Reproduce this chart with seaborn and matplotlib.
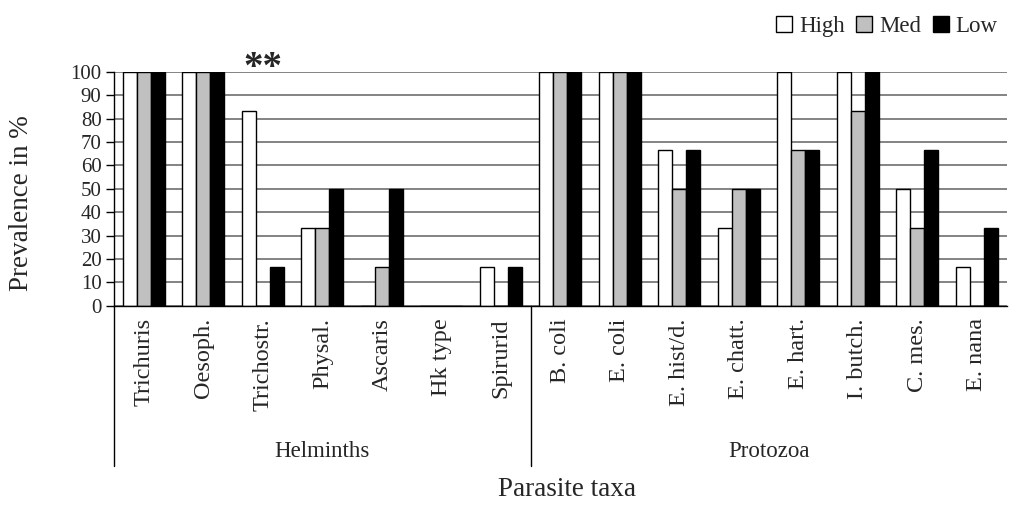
import matplotlib
matplotlib.use("Agg")
import matplotlib.pyplot as plt
from matplotlib.patches import Patch
import matplotlib.transforms as mtransforms
import seaborn as sns
import pandas as pd

# Parasite taxa and prevalence (%) per infection level
taxa = ["Trichuris", "Oesoph.", "Trichostr.", "Physal.", "Ascaris", "Hk type",
        "Spirurid", "B. coli", "E. coli", "E. hist/d.", "E. chatt.", "E. hart.",
        "I. butch.", "C. mes.", "E. nana"]
levels = ["High", "Med", "Low"]
high = [100, 100, 83.3, 33.3, 0, 0, 16.7, 100, 100, 66.7, 33.3, 100, 100, 50, 16.7]
med = [100, 100, 0, 33.3, 16.7, 0, 0, 100, 100, 50, 50, 66.7, 83.3, 33.3, 0]
low = [100, 100, 16.7, 50, 50, 0, 16.7, 100, 100, 66.7, 50, 66.7, 100, 66.7, 33.3]
groups = ["Helminths", "Protozoa"]
group_sizes = [7, 8]
yticks = list(range(0, 101, 10))

df = pd.DataFrame({
    "taxon": taxa * 3,
    "level": [lv for lv in levels for _ in taxa],
    "prev": high + med + low,
})

sns.set_theme(style="white")
plt.rcParams["font.family"] = ["Liberation Serif", "DejaVu Serif"]

colors = ["white", "#c0c0c0", "black"]

fig = plt.figure(figsize=(10.1, 5.08), dpi=100)
ax = fig.add_axes([0.1129, 0.3982, 0.8837, 0.4606])

ax.yaxis.grid(True, color="#6e6e6e", linewidth=1.2, zorder=0)
ax.set_axisbelow(True)

sns.barplot(data=df, x="taxon", y="prev", hue="level", hue_order=levels,
            order=taxa, palette=colors, edgecolor="black", linewidth=1.0,
            width=0.71, gap=0, ax=ax, legend=False, errorbar=None,
            saturation=1)

ax.set_ylim(0, 100)
ax.set_xlim(-0.5, len(taxa) - 0.5)
ax.set_yticks(yticks)
ax.set_yticklabels([str(t) for t in yticks], fontsize=15)
ax.set_xticks(range(len(taxa)))
ax.set_xticklabels(taxa, rotation=90, fontsize=17.5, va="top")
ax.tick_params(axis="y", direction="out", length=6, width=1, color="black",
               left=True, pad=3)
ax.tick_params(axis="x", length=0, pad=9)
ax.set_xlabel("")
ax.set_ylabel("")

for side in ["top", "right"]:
    ax.spines[side].set_visible(False)
for side in ["left", "bottom"]:
    ax.spines[side].set_color("black")
    ax.spines[side].set_linewidth(1)

# Group brackets below the category labels
trans = mtransforms.blended_transform_factory(ax.transData, ax.transAxes)
start = -0.5
for g, n in zip(groups, group_sizes):
    ax.plot([start, start], [0, -0.685], transform=trans, color="black",
            linewidth=1, clip_on=False)
    ax.text(start + n / 2, -0.625, g, transform=trans, ha="center",
            va="center", fontsize=16.5)
    start += n

# Significance marker
ax.text(2, 101.5, "**", ha="center", va="center", fontsize=28,
        fontweight="bold", clip_on=False)

fig.text(22 / 1010, 1 - 203 / 508, "Prevalence in %", rotation=90,
         ha="center", va="center", fontsize=19.5)
fig.text(567 / 1010, 1 - 490 / 508, "Parasite taxa", ha="center",
         va="center", fontsize=19.5)

handles = [Patch(facecolor=c, edgecolor="black", linewidth=1) for c in colors]
fig.legend(handles, levels, loc="upper right", bbox_to_anchor=(1.008, 1.01),
           ncol=3, frameon=False, fontsize=16.5, handlelength=0.7,
           handleheight=0.7, handletextpad=0.3, columnspacing=0.5)

fig.savefig("out.png", dpi=100)
